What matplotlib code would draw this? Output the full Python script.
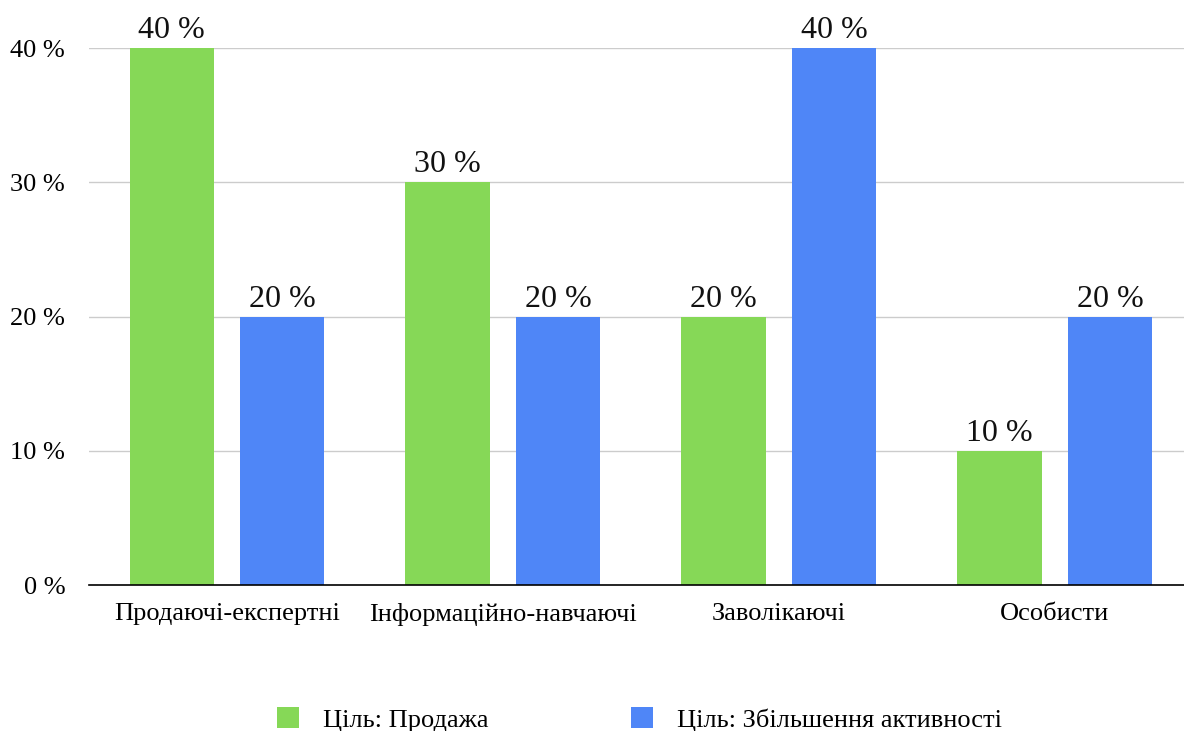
import matplotlib
matplotlib.use("Agg")
import matplotlib.pyplot as plt
import numpy as np

plt.rcParams['font.family'] = ['Liberation Serif', 'DejaVu Serif']

categories = ['Продаючі-експертні', 'Інформаційно-навчаючі', 'Заволікаючі', 'Особисти']
sales = [40, 30, 20, 10]
activity = [20, 20, 40, 20]
series_names = ['Ціль: Продажа', 'Ціль: Збільшення активності']
colors = ['#86D857', '#4F86F7']

fig = plt.figure(figsize=(11.84, 7.31), dpi=100)
ax = fig.add_axes([0.075, 0.1997, 0.9324, 0.7346])

x = np.arange(len(categories))
w = 0.305
b1 = ax.bar(x - 0.2, sales, w, color=colors[0], label=series_names[0], zorder=3)
b2 = ax.bar(x + 0.2, activity, w, color=colors[1], label=series_names[1], zorder=3)

# value labels above each bar
for bars in (b1, b2):
    for rect in bars:
        h = rect.get_height()
        ax.annotate(f'{h:.0f} %', (rect.get_x() + rect.get_width() / 2, h),
                    xytext=(0, 2), textcoords='offset points',
                    ha='center', va='bottom', fontsize=23, color='#111111')

ax.set_xlim(-0.5, 3.5)
ax.set_ylim(0, 40)
ax.set_yticks([0, 10, 20, 30, 40])
ax.set_yticklabels([f'{v} %' for v in [0, 10, 20, 30, 40]], fontsize=19)
ax.set_xticks(x)
ax.set_xticklabels(categories, fontsize=19)
ax.tick_params(axis='y', length=0, pad=17)
ax.tick_params(axis='x', length=0, pad=13)

ax.grid(axis='y', color='#cccccc', linewidth=1, zorder=0)
for s in ('top', 'right', 'left'):
    ax.spines[s].set_visible(False)
ax.spines['bottom'].set_color('black')
ax.spines['bottom'].set_linewidth(1.2)
ax.spines['bottom'].set_zorder(4)

fig.legend(handles=[b1, b2], loc='center', bbox_to_anchor=(0.540, 0.016),
           ncol=2, frameon=False, fontsize=19, handlelength=0.85, handleheight=0.85,
           columnspacing=5.4, handletextpad=0.9)

fig.savefig('out.png', dpi=100)
